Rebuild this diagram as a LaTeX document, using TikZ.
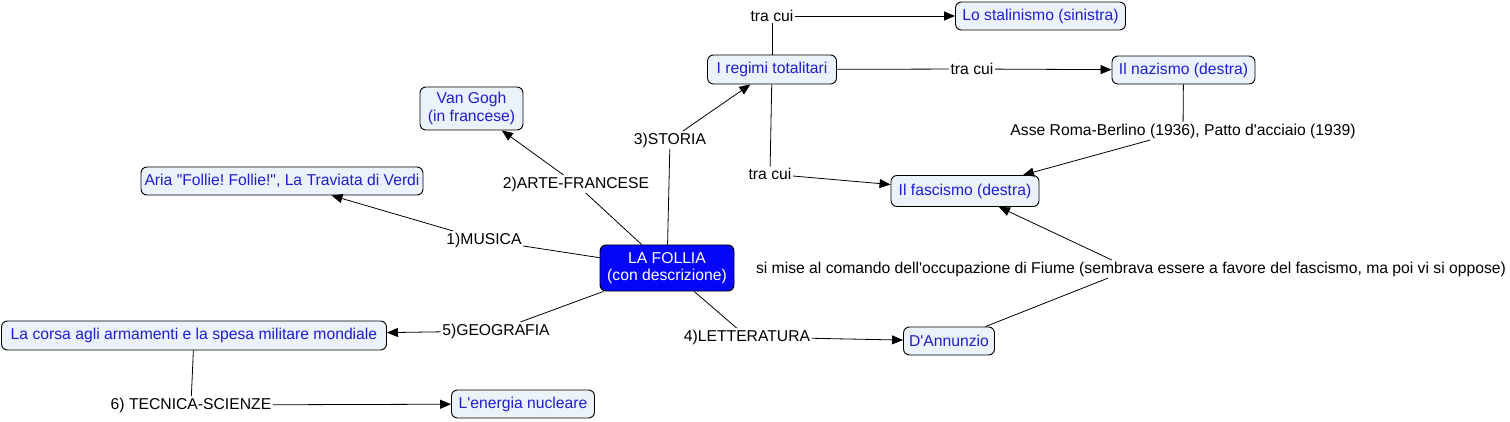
\documentclass[tikz,border=0pt]{standalone}
\usepackage{fontspec}
\newfontfamily\cmfont{Liberation Sans}
\usetikzlibrary{arrows.meta}
\definecolor{cfill}{RGB}{236,242,250}
\definecolor{ctext}{RGB}{30,30,205}
\definecolor{mainfill}{RGB}{5,5,248}
\frenchspacing
\begin{document}
\begin{tikzpicture}[x=1pt,y=-1pt,
  every node/.style={font=\cmfont\fontsize{15.7}{17.5}\selectfont},
  concept/.style={draw=black,line width=0.9pt,rounded corners=6pt,fill=cfill,text=ctext,align=center,inner sep=0pt},
  mainc/.style={draw=black,line width=0.9pt,rounded corners=6pt,fill=mainfill,text=white,align=center,inner sep=0pt},
  lbl/.style={inner sep=1.5pt,text=black},
  conn/.style={line width=0.8pt,draw=black},
  arr/.style={conn,-{Triangle[length=11pt,width=9pt]}}]
\useasboundingbox (0,0) rectangle (1510,422);
% concepts
\node[mainc,minimum width=134pt,minimum height=46pt] (follia) at (667,268) {LA FOLLIA\\(con descrizione)};
\node[concept,minimum width=103pt,minimum height=43pt] (vangogh) at (471.5,108.5) {Van Gogh\\(in francese)};
\node[concept,minimum width=282pt,minimum height=28pt] (aria) at (282,181) {\frenchspacing Aria "Follie! Follie!", La Traviata di Verdi};
\node[concept,minimum width=385pt,minimum height=29pt] (corsa) at (194,335.5) {La corsa agli armamenti e la spesa militare mondiale};
\node[concept,minimum width=143pt,minimum height=28pt] (energia) at (523,404) {L'energia nucleare};
\node[concept,minimum width=91pt,minimum height=28pt] (dann) at (949,341) {D'Annunzio};
\node[concept,minimum width=148pt,minimum height=31pt] (fasc) at (965,191) {Il fascismo (destra)};
\node[concept,minimum width=143pt,minimum height=28pt] (naz) at (1183.5,70) {Il nazismo (destra)};
\node[concept,minimum width=170pt,minimum height=28pt] (stal) at (1040.5,16) {Lo stalinismo (sinistra)};
\node[concept,minimum width=129pt,minimum height=29pt] (regimi) at (772,69.5) {I regimi totalitari};
% labels
\node[lbl] (musica) at (484,240) {1)MUSICA};
\node[lbl] (arte) at (576,184) {2)ARTE-FRANCESE};
\node[lbl] (storia) at (670,140) {3)STORIA};
\node[lbl] (lett) at (747,337) {4)LETTERATURA};
\node[lbl] (geo) at (496,331) {5)GEOGRAFIA};
\node[lbl] (tec) at (191,405) {6) TECNICA-SCIENZE};
\node[lbl] (tc1) at (772,16) {tra cui};
\node[lbl] (tc2) at (972,69) {tra cui};
\node[lbl] (tc3) at (770,174) {tra cui};
\node[lbl] (asse) at (1183,131) {Asse Roma-Berlino (1936), Patto d'acciaio (1939)};
\node[lbl] (fiume) at (1131,269) {si mise al comando dell'occupazione di Fiume (sembrava essere a favore del fascismo, ma poi vi si oppose)};
% connectors
\draw[conn] (follia) -- (musica);
\draw[arr] (musica) -- (aria);
\draw[conn] (follia) -- (arte);
\draw[arr] (arte) -- (vangogh);
\draw[conn] (follia) -- (storia);
\draw[arr] (storia) -- (regimi);
\draw[conn] (follia) -- (lett);
\draw[arr] (lett) -- (dann);
\draw[conn] (follia) -- (geo);
\draw[arr] (geo) -- (corsa);
\draw[conn] (corsa) -- (tec);
\draw[arr] (tec) -- (energia);
\draw[conn] (regimi) -- (tc1);
\draw[arr] (tc1) -- (stal);
\draw[conn] (regimi) -- (tc2);
\draw[arr] (tc2) -- (naz);
\draw[conn] (regimi) -- (tc3);
\draw[arr] (tc3) -- (fasc);
\draw[conn] (naz) -- (asse);
\draw[arr] (asse) -- (fasc);
\draw[conn] (dann) -- (fiume);
\draw[arr] (fiume) -- (fasc);
\end{tikzpicture}
\end{document}
